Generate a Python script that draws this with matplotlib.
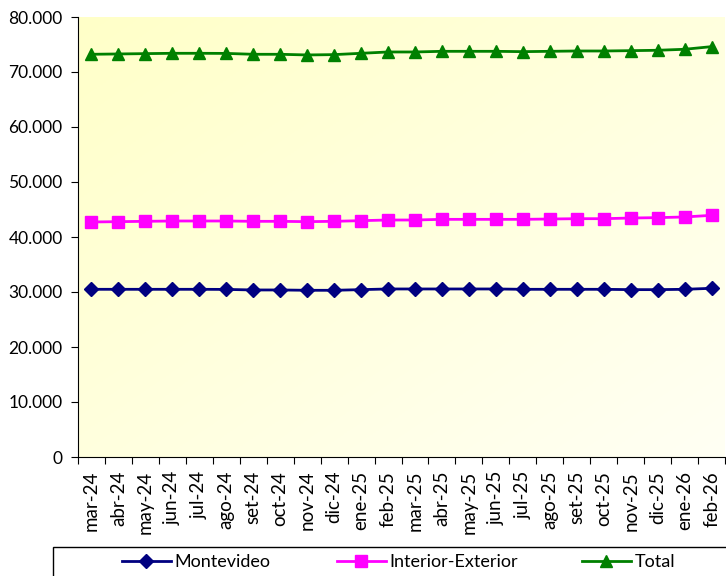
import numpy as np
import matplotlib.pyplot as plt
from matplotlib.colors import LinearSegmentedColormap
from matplotlib.patches import Rectangle
from matplotlib.ticker import FuncFormatter, FixedLocator

plt.rcParams['font.family'] = ['Lato', 'DejaVu Sans']

meses = ['mar-24', 'abr-24', 'may-24', 'jun-24', 'jul-24', 'ago-24', 'set-24', 'oct-24',
         'nov-24', 'dic-24', 'ene-25', 'feb-25', 'mar-25', 'abr-25', 'may-25', 'jun-25',
         'jul-25', 'ago-25', 'set-25', 'oct-25', 'nov-25', 'dic-25', 'ene-26', 'feb-26']

montevideo = [30490, 30490, 30490, 30490, 30490, 30470, 30370, 30370, 30310, 30310, 30430, 30550,
              30550, 30550, 30550, 30550, 30490, 30490, 30490, 30490, 30430, 30430, 30490, 30670]
interior = [42730, 42790, 42850, 42910, 42910, 42910, 42850, 42850, 42790, 42850, 42970, 43090,
            43090, 43210, 43210, 43210, 43210, 43270, 43330, 43330, 43450, 43520, 43640, 43940]
total = [73220, 73280, 73340, 73400, 73400, 73380, 73220, 73220, 73100, 73160, 73400, 73640,
         73640, 73760, 73760, 73760, 73700, 73760, 73820, 73820, 73880, 73950, 74130, 74610]

fig = plt.figure(figsize=(7.26, 5.76), dpi=100)
ax = fig.add_axes([78/726, 1-457/576, 647/726, 440/576])

# fondo degradado amarillo -> blanco
gx, gy = np.meshgrid(np.linspace(0, 1, 200), np.linspace(0, 1, 200))
grad = (gx + gy) / 2
cmap = LinearSegmentedColormap.from_list('fondo', ['#FFFFC8', '#FFFFF4'])
ax.imshow(grad, cmap=cmap, extent=[0, 1, 0, 1], transform=ax.transAxes,
          aspect='auto', zorder=0, origin='upper')

x = np.arange(len(meses))
l1, = ax.plot(x, montevideo, color='#000080', marker='D', markersize=7.5, lw=2, label='Montevideo', zorder=3)
l2, = ax.plot(x, interior, color='#FF00FF', marker='s', markersize=8.5, lw=2, label='Interior-Exterior', zorder=3)
l3, = ax.plot(x, total, color='#008000', marker='^', markersize=9, lw=2, label='Total', zorder=3)

ax.set_xlim(-0.5, len(meses) - 0.5)
ax.set_ylim(0, 80000)
ax.set_yticks(np.arange(0, 80001, 10000))
ax.yaxis.set_major_formatter(FuncFormatter(lambda v, p: '0' if v == 0 else f'{v:,.0f}'.replace(',', '.')))

ax.xaxis.set_major_locator(FixedLocator(np.arange(len(meses) + 1) - 0.5))
ax.xaxis.set_minor_locator(FixedLocator(x))
ax.set_xticklabels([])
ax.set_xticklabels(meses, minor=True, rotation=90)
ax.tick_params(axis='x', which='minor', length=0, pad=10, labelsize=13.5)
ax.tick_params(axis='x', which='major', length=5, direction='out')
ax.tick_params(axis='y', length=5, labelsize=12.5, pad=6)

for s in ['top', 'right']:
    ax.spines[s].set_visible(False)
ax.spines['left'].set_color('black')
ax.spines['bottom'].set_color('black')

# caja de la leyenda (se sale de la figura como en el original)
fig.patches.append(Rectangle((53/726, -0.02), 1.0, 29/576 + 0.02, transform=fig.transFigure,
                             facecolor='white', edgecolor='black', lw=1, zorder=1))
for linea, xpos in zip([l1, l2, l3], [122, 337, 582]):
    leg = fig.legend(handles=[linea], loc='center left', bbox_to_anchor=(xpos/726, 1-562/576),
                     fontsize=13, frameon=False, handlelength=2.7, borderpad=0,
                     handletextpad=0.2, borderaxespad=0)
    leg.set_zorder(2)

fig.savefig('out.png', dpi=100)
